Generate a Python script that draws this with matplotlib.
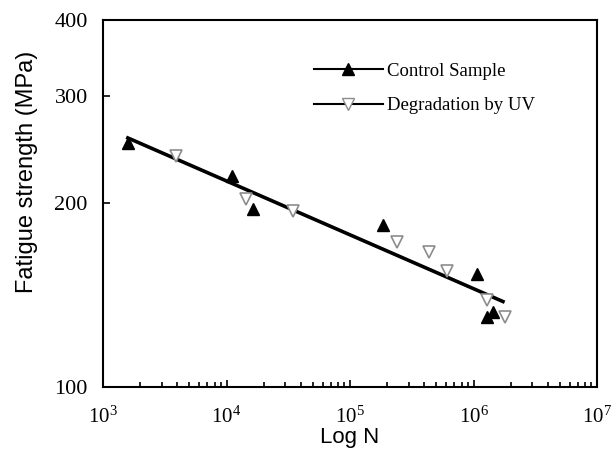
import numpy as np
import matplotlib.pyplot as plt
from matplotlib.lines import Line2D
from matplotlib.ticker import LogLocator, FixedLocator, NullLocator, FixedFormatter

# Control sample (filled up-triangles)
control_n = [1590, 11000, 16400, 1.85e5, 1.07e6, 1.29e6, 1.44e6]
control_s = [251, 222, 196, 184, 153, 130, 132.5]

# Degradation by UV (open down-triangles)
uv_n = [3900, 14400, 34500, 2.4e5, 4.36e5, 6.1e5, 1.29e6, 1.8e6]
uv_s = [239, 203, 194, 173, 166.5, 155, 139, 130]

# fitted S-N line
fit_n = [1590, 1.73e6]
fit_s = [256, 138]

y_ticks = [100, 200, 300, 400]

plt.rcParams['mathtext.fontset'] = 'stix'

fig = plt.figure(figsize=(6.13, 4.61), dpi=100)
ax = fig.add_axes([0.168, 0.161, 0.806, 0.796])

ax.plot(fit_n, fit_s, color='black', lw=2.6, zorder=2)
ax.plot(control_n, control_s, linestyle='none', marker='^', ms=9,
        mfc='black', mec='black', zorder=3)
ax.plot(uv_n, uv_s, linestyle='none', marker='v', ms=9,
        mfc='white', mec='#8c8c8c', mew=1.2, zorder=3)

ax.set_xscale('log')
ax.set_yscale('log')
ax.set_xlim(1e3, 1e7)
ax.set_ylim(100, 400)

ax.xaxis.set_major_locator(LogLocator(base=10))
ax.xaxis.set_minor_locator(LogLocator(base=10, subs=np.arange(2, 10)))
ax.xaxis.set_minor_formatter(plt.NullFormatter())
ax.yaxis.set_major_locator(FixedLocator(y_ticks))
ax.yaxis.set_major_formatter(FixedFormatter([str(v) for v in y_ticks]))
ax.yaxis.set_minor_locator(NullLocator())

ax.tick_params(which='both', direction='in', top=False, right=False)
ax.tick_params(which='major', length=5, width=1.2)
ax.tick_params(axis='y', which='major', pad=11, labelsize=16,
               labelfontfamily='Liberation Serif')
ax.tick_params(axis='x', which='major', pad=14, labelsize=15,
               labelfontfamily='Liberation Serif')
ax.tick_params(which='minor', length=3.5, width=1.2)
for sp in ax.spines.values():
    sp.set_linewidth(1.5)

ax.set_xlabel('Log N', fontsize=16, family='Liberation Sans', labelpad=0)
ax.set_ylabel('Fatigue strength (MPa)', fontsize=17, family='Liberation Sans')
ax.yaxis.set_label_coords(-0.132, 0.586)

handles = [
    Line2D([], [], color='black', lw=1.5, marker='^', ms=9, mfc='black', mec='black'),
    Line2D([], [], color='black', lw=1.5, marker='v', ms=9, mfc='white', mec='#8c8c8c'),
]
ax.legend(handles, ['Control Sample', 'Degradation by UV'], loc='upper left',
          bbox_to_anchor=(0.392, 0.93), frameon=False, handlelength=3.7,
          handletextpad=0.2, labelspacing=0.95,
          prop={'family': 'Liberation Serif', 'size': 13.5})

fig.savefig('out.png', dpi=100)
